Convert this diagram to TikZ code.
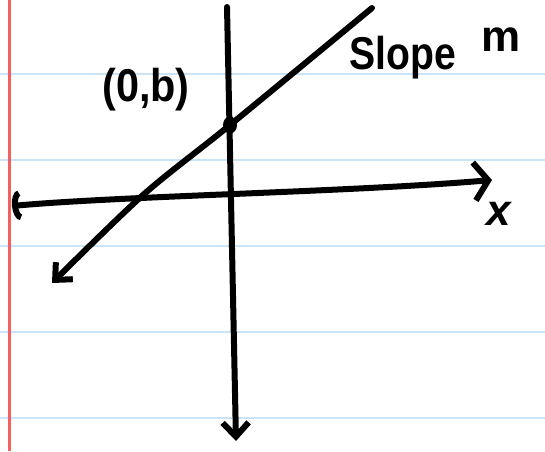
\documentclass[tikz,border=0pt]{standalone}
\usepackage{graphicx}
\usepackage{fontspec}
\setmainfont{Liberation Sans}
\usetikzlibrary{arrows.meta}
\definecolor{ruleblue}{RGB}{200,228,246}
\definecolor{marginred}{RGB}{245,95,95}
\begin{document}
\begin{tikzpicture}[x=1pt,y=-1pt,
  axis/.style={line width=6pt,line cap=round},
  hand/.style={font=\fontsize{46}{50}\selectfont\bfseries}]
\useasboundingbox (0,0) rectangle (545,451);
\fill[white] (0,0) rectangle (545,451);
% ruled paper
\foreach \y in {73.5,159.5,245.5,331.5,417.5}
  \draw[ruleblue,line width=2pt] (0,\y) -- (545,\y);
\draw[marginred,line width=2.4pt] (9.5,0) -- (9.5,451);
% axes
\coordinate (xl) at (12,206);
\coordinate (xr) at (492,180);
\coordinate (yt) at (227,7);
\coordinate (yb) at (236,441);
\draw[axis,{Arc Barb[length=8pt,width=30pt]}-{Straight Barb[length=14pt,width=38pt]}]
  (xl) .. controls (120,196) and (350,192) .. (xr);
\draw[axis,-{Straight Barb[length=14pt,width=26pt]}] (yt) -- (yb);
% line through (0,b)
\coordinate (b) at (230,125);
\draw[axis,-{Straight Barb[length=13pt,width=24pt]}]
  plot[smooth] coordinates {(372,8) (b) (143,195) (52,283)};
\fill (b) ellipse (7 and 8.5);
\node[hand] (blabel) at (146,90) {\scalebox{0.9}[1]{(0,b)}};
\node[hand] (slope) at (403,58) {\scalebox{0.85}[1]{Slope}};
\node[hand,font=\fontsize{44}{48}\selectfont\bfseries] (m) at (501,40) {m};
\node[hand,font=\fontsize{44}{48}\selectfont\bfseries\itshape] (xlabel) at (499,214) {x};
\end{tikzpicture}
\end{document}
